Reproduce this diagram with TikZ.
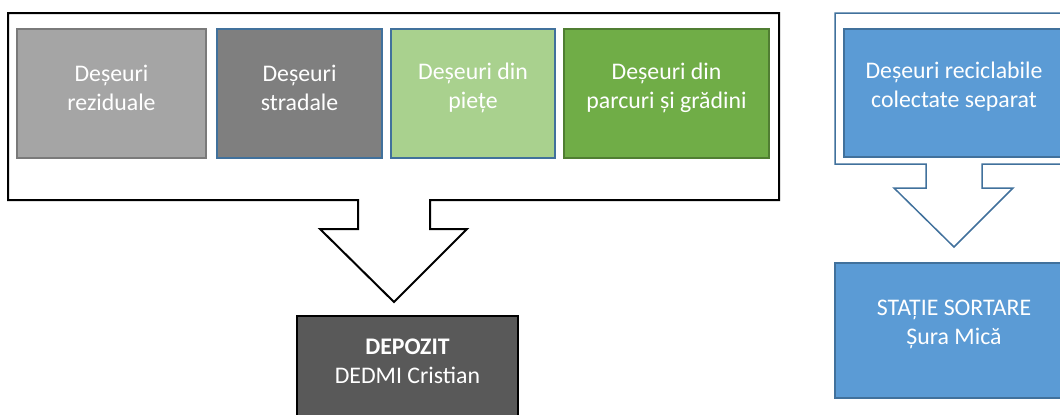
\documentclass[tikz,border=0pt]{standalone}
\usepackage{fontspec}
\setmainfont{Carlito}
\usetikzlibrary{positioning}
\definecolor{rezfill}{HTML}{A5A5A5}
\definecolor{rezline}{HTML}{7A7A7A}
\definecolor{strfill}{HTML}{7F7F7F}
\definecolor{pietfill}{HTML}{A9D18E}
\definecolor{parcfill}{HTML}{70AD47}
\definecolor{parcline}{HTML}{507E32}
\definecolor{recfill}{HTML}{5B9BD5}
\definecolor{blueline}{HTML}{41719C}
\definecolor{depfill}{HTML}{595959}

\begin{document}
\begin{tikzpicture}[x=0.5pt,y=-0.5pt,
	wbox/.style={rectangle,line width=0.75pt,inner sep=0pt,minimum height=64.5pt},
	txt/.style={text=white,align=center,yshift=3pt,font=\fontsize{11.9}{14.5}\selectfont}]
	\useasboundingbox (0,0) rectangle (1060,414);
	\clip (0,0) rectangle (1060,414);

	\draw[line width=1pt,fill=white] (8,13) -- (779,13) -- (779,200) -- (430,200) -- (430,229)
		-- (467,229) -- (394,302) -- (320,229) -- (358,229) -- (358,200) -- (8,200) -- cycle;
	\draw[line width=0.75pt,draw=blueline,fill=white] (835,13) -- (1073,13) -- (1073,164) -- (982,164)
		-- (982,188) -- (1013,188) -- (954,247) -- (894,188) -- (926,188) -- (926,164) -- (835,164) -- cycle;

	\node[wbox,fill=rezfill,draw=rezline,minimum width=94.5pt,
		label={[txt]center:{Deșeuri\\reziduale}}] (rez) at (111.5,93.5) {};
	\node[wbox,fill=strfill,draw=blueline,minimum width=82.5pt,
		label={[txt]center:{Deșeuri\\stradale}}] (strad) at (299.5,93.5) {};
	\node[wbox,fill=pietfill,draw=blueline,minimum width=82pt,
		label={[txt]center:{Deșeuri din\\piețe}}] (piete) at (473,93.5) {};
	\node[wbox,fill=parcfill,draw=parcline,minimum width=102.5pt,
		label={[txt]center:{Deșeuri din\\parcuri și grădini}}] (parc) at (666.5,93.5) {};

	\node[wbox,fill=recfill,draw=blueline,minimum width=110pt,minimum height=64pt,
		label={[txt]center:{Deșeuri reciclabile\\colectate separat}}] (recic) at (954,93) {};
	\node[wbox,fill=recfill,draw=blueline,minimum width=119pt,minimum height=67.5pt,
		label={[txt]center:{STAȚIE SORTARE\\Șura Mică}}] (statie) at (954,330.5) {};

	\node[wbox,fill=depfill,draw=black,line width=1pt,minimum width=110.5pt,minimum height=51pt,
		label={[txt]center:{\textbf{DEPOZIT}\\DEDMI Cristian}}] (depozit) at (407.5,367) {};
\end{tikzpicture}
\end{document}
